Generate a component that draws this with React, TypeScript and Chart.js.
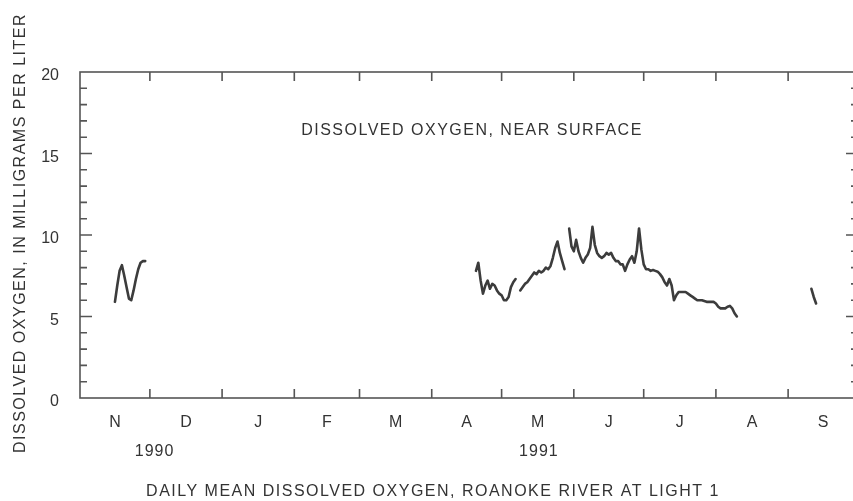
import React, { useEffect, useRef } from 'react';
import { Chart, registerables } from 'chart.js';

Chart.register(...registerables);

// Days counted from 1 Nov 1990 (day 0) to 1 Oct 1991 (day 334)
const monthStarts = [0, 30, 61, 92, 120, 151, 181, 212, 242, 273, 304, 334];
const monthLabels = ['N', 'D', 'J', 'F', 'M', 'A', 'M', 'J', 'J', 'A', 'S'];
const yearLabels = ['1990', '1991'];
const yearLabelDays = [32, 197];

// Daily mean dissolved oxygen (mg/L), segments of record
const novStart = 15;
const novValues = [5.9, 6.9, 7.8, 8.15, 7.5, 6.8, 6.1, 6.0, 6.6, 7.3, 7.9, 8.3, 8.4, 8.4];

const aprStart = 170;
const aprValues = [7.8, 8.3, 7.2, 6.4, 6.9, 7.2, 6.7, 7.0, 6.9, 6.6, 6.4, 6.3, 6.0, 6.0, 6.2, 6.8, 7.1, 7.3];

const mayStart = 189;
const mayValues = [6.6, 6.8, 7.0, 7.1, 7.3, 7.5, 7.7, 7.6, 7.8, 7.7, 7.8, 8.0, 7.9, 8.1, 8.6, 9.2, 9.6, 8.9, 8.4, 7.9];

const junStart = 210;
const junValues = [
  10.4, 9.3, 9.0, 9.7, 9.0, 8.6, 8.3, 8.6, 8.8, 9.2,
  10.5, 9.4, 8.9, 8.7, 8.6, 8.7, 8.9, 8.8, 8.9, 8.6,
  8.4, 8.4, 8.2, 8.2, 7.8, 8.2, 8.5, 8.7, 8.3, 9.0,
  10.4, 9.1, 8.2, 7.9, 7.9, 7.8, 7.85, 7.8, 7.75, 7.6,
  7.4, 7.1, 6.9, 7.3, 6.9, 6.0, 6.3, 6.5, 6.5, 6.5,
  6.5, 6.4, 6.3, 6.2, 6.1, 6.0, 6.0, 6.0, 5.95, 5.9,
  5.9, 5.9, 5.9, 5.8, 5.6, 5.5, 5.5, 5.5, 5.6, 5.65,
  5.5, 5.2, 5.0,
];

const sepStart = 314;
const sepValues = [6.7, 6.2, 5.8];

const FONT = '"Liberation Sans", Arial, Helvetica, sans-serif';
const INK = '#333333';

export default function App() {
  const ref = useRef<HTMLCanvasElement>(null);

  useEffect(() => {
    document.body.style.margin = '0';
    document.body.style.overflow = 'hidden';
    const canvas = ref.current!;
    const segments: [number, number[]][] = [
      [novStart, novValues],
      [aprStart, aprValues],
      [mayStart, mayValues],
      [junStart, junValues],
      [sepStart, sepValues],
    ];
    const datasets = segments.map(([s, vals]) => ({
      data: vals.map((v, i) => ({ x: s + i, y: v })),
      borderColor: '#3c3c3c',
      borderWidth: 2.6,
      pointRadius: 0,
      tension: 0,
      fill: false,
      borderJoinStyle: 'round' as const,
      borderCapStyle: 'round' as const,
    }));
    const mids = monthLabels.map((_, i) => (monthStarts[i] + monthStarts[i + 1]) / 2);

    const frame = {
      id: 'frame',
      afterDraw(chart: any) {
        const { ctx, chartArea } = chart;
        const { left, right, top, bottom } = chartArea;
        const xs = chart.scales.x;
        const ys = chart.scales.y;
        ctx.save();
        ctx.strokeStyle = '#555';
        ctx.lineWidth = 1.6;
        ctx.strokeRect(left, top, right - left, bottom - top);
        ctx.beginPath();
        for (let v = 1; v < 20; v++) {
          const y = ys.getPixelForValue(v);
          const len = v % 5 === 0 ? 12 : 7;
          ctx.moveTo(left, y);
          ctx.lineTo(left + len, y);
          ctx.moveTo(right, y);
          ctx.lineTo(right - len, y);
        }
        for (let i = 1; i < monthStarts.length - 1; i++) {
          const x = xs.getPixelForValue(monthStarts[i]);
          ctx.moveTo(x, bottom);
          ctx.lineTo(x, bottom - 9);
          ctx.moveTo(x, top);
          ctx.lineTo(x, top + 9);
        }
        ctx.stroke();

        ctx.fillStyle = INK;
        ctx.font = `16px ${FONT}`;
        ctx.textAlign = 'center';
        ctx.textBaseline = 'middle';
        (ctx as any).letterSpacing = '1.5px';
        ctx.fillText('DISSOLVED OXYGEN, NEAR SURFACE', 472, 131);
        ctx.fillText('DAILY MEAN DISSOLVED OXYGEN, ROANOKE RIVER AT LIGHT 1', 433, 492);
        (ctx as any).letterSpacing = '1px';
        yearLabels.forEach((t, i) => {
          ctx.fillText(t, xs.getPixelForValue(yearLabelDays[i]), 452);
        });
        (ctx as any).letterSpacing = '1.5px';
        ctx.translate(21, 233);
        ctx.rotate(-Math.PI / 2);
        ctx.fillText('DISSOLVED OXYGEN, IN MILLIGRAMS PER LITER', 0, 0);
        ctx.restore();
      },
    };

    const chart = new Chart(canvas, {
      type: 'line',
      data: { datasets },
      options: {
        responsive: false,
        animation: false,
        devicePixelRatio: 1,
        layout: { padding: { top: 72, right: 5, bottom: 0, left: 0 } },
        plugins: { legend: { display: false }, tooltip: { enabled: false }, title: { display: false } },
        scales: {
          x: {
            type: 'linear',
            min: 0,
            max: 334,
            grid: { display: false },
            border: { display: false },
            afterBuildTicks: (s: any) => {
              s.ticks = mids.map((v) => ({ value: v }));
            },
            afterFit: (s: any) => {
              s.height = 103;
            },
            ticks: {
              autoSkip: false,
              maxRotation: 0,
              padding: 7,
              color: INK,
              font: { family: FONT, size: 16 },
              callback: (_v: any, i: number) => monthLabels[i],
            },
          },
          y: {
            min: 0,
            max: 20,
            grid: { display: false },
            border: { display: false },
            afterFit: (s: any) => {
              s.width = 80;
            },
            ticks: {
              stepSize: 5,
              padding: 13,
              labelOffset: 4,
              color: INK,
              font: { family: FONT, size: 16 },
            },
          },
        },
      },
      plugins: [frame],
    });
    return () => chart.destroy();
  }, []);

  return <canvas ref={ref} width={863} height={501} style={{ display: 'block', width: 863, height: 501 }} />;
}
